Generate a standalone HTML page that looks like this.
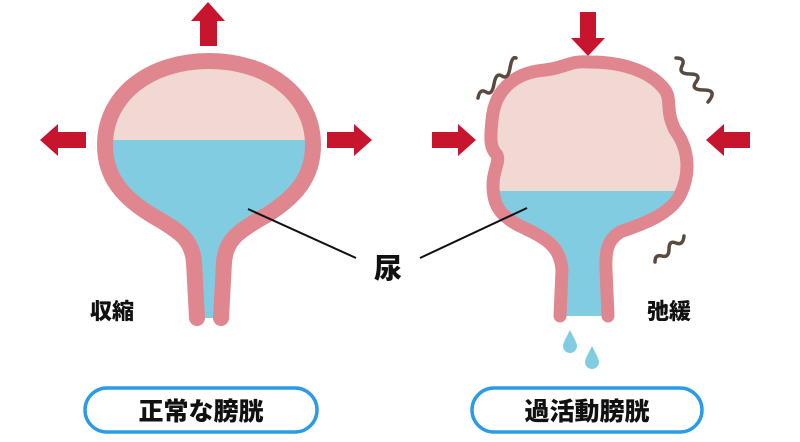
<!DOCTYPE html>
<html><head><meta charset="utf-8"><style>
html,body{margin:0;padding:0;background:#fff;}
svg{display:block;}
text{font-family:"Liberation Sans","Noto Sans CJK JP",sans-serif;font-weight:900;fill:#111;}
</style></head><body>
<svg width="800" height="442" viewBox="0 0 800 442" xmlns="http://www.w3.org/2000/svg">
<defs>
<clipPath id="cl"><path d="M197 318 L194 262 C192 240 180 232 160 220 C120 198 105 175 105 145 C105 95 150 61 209 61 C268 61 313 95 313 145 C313 175 298 198 258 220 C238 232 226 240 224 262 L221 318 Z"/></clipPath>
<clipPath id="cr"><path d="M560 316 L562 270 C560 245 545 238 520 226 C500 216 493 205 493 185 C493 170 500 162 497 155 C490 148 490 140 492 120 C495 85 520 72 545 70 C565 68 570 60 590 62 C620 62 650 70 665 90 C672 100 665 110 675 130 C690 150 690 175 680 195 C670 215 640 225 620 232 C608 240 605 250 606 270 L608 316 Z"/></clipPath>
</defs>
<!-- left bladder -->
<g clip-path="url(#cl)">
<rect x="90" y="50" width="240" height="90" fill="#f2d8d2"/>
<rect x="90" y="140" width="240" height="190" fill="#82cce2"/>
</g>
<path d="M197 318 L194 262 C192 240 180 232 160 220 C120 198 105 175 105 145 C105 95 150 61 209 61 C268 61 313 95 313 145 C313 175 298 198 258 220 C238 232 226 240 224 262 L221 318" fill="none" stroke="#e0868f" stroke-width="16" stroke-linecap="round" stroke-linejoin="round"/>
<!-- left arrows -->
<g fill="#c8152e">
<path d="M208 2 L225 21 L217 21 L217 46 L200 46 L200 21 L191 21 Z"/>
<path d="M40 140 L58 124 L58 132 L86 132 L86 148 L58 148 L58 156 Z"/>
<path d="M372 140 L354 124 L354 132 L327 132 L327 148 L354 148 L354 156 Z"/>
<!-- right arrows -->
<path d="M588 56 L571 38 L580 38 L580 12 L596 12 L596 38 L605 38 Z"/>
<path d="M476 140 L458 124 L458 132 L432 132 L432 148 L458 148 L458 156 Z"/>
<path d="M706 140 L724 124 L724 132 L750 132 L750 148 L724 148 L724 156 Z"/>
</g>
<!-- right bladder -->
<g clip-path="url(#cr)">
<rect x="480" y="50" width="220" height="141" fill="#f2d8d2"/>
<rect x="480" y="191" width="220" height="140" fill="#82cce2"/>
</g>
<path d="M560 316 L562 270 C560 245 545 238 520 226 C500 216 493 205 493 185 C493 170 500 162 497 155 C490 148 490 140 492 120 C495 85 520 72 545 70 C565 68 570 60 590 62 C620 62 650 70 665 90 C672 100 665 110 675 130 C690 150 690 175 680 195 C670 215 640 225 620 232 C608 240 605 250 606 270 L608 316" fill="none" stroke="#e0868f" stroke-width="13" stroke-linecap="round" stroke-linejoin="round"/>
<!-- drops -->
<g fill="#82cce2">
<path d="M570 330 C566 338 563 343 563 346 A7 7 0 0 0 577 346 C577 343 574 338 570 330 Z"/>
<path d="M592 346 C588 354 585 359 585 362 A7 7 0 0 0 599 362 C599 359 596 354 592 346 Z"/>
</g>
<!-- squiggles -->
<g fill="none" stroke="#5a4a3e" stroke-width="3.5" stroke-linecap="round">
<path d="M478 98 q2 -10 8 -6 t8 -8 t8 -8 t8 -8 t6 -10"/>
<path d="M676 58 q10 0 6 8 t8 8 t6 8 t8 8 t4 12"/>
<path d="M655 262 q0 -8 7 -6 t7 -7 t7 -6 t8 -7"/>
</g>
<!-- leader lines -->
<g stroke="#111" stroke-width="2">
<line x1="248" y1="209" x2="356" y2="258"/>
<line x1="420" y1="258" x2="527" y2="208"/>
</g>
<text x="388" y="278" font-size="28" text-anchor="middle">尿</text>
<text x="112" y="319" font-size="22" text-anchor="middle">収縮</text>
<text x="669" y="319" font-size="22" text-anchor="middle">弛緩</text>
<!-- pills -->
<rect x="85" y="388" width="232" height="44" rx="22" fill="#fff" stroke="#2b9be8" stroke-width="3.5"/>
<rect x="472" y="388" width="230" height="44" rx="22" fill="#fff" stroke="#2b9be8" stroke-width="3.5"/>
<text x="201" y="420" font-size="25" text-anchor="middle">正常な膀胱</text>
<text x="587" y="420" font-size="25" text-anchor="middle">過活動膀胱</text>
</svg>
</body></html>
